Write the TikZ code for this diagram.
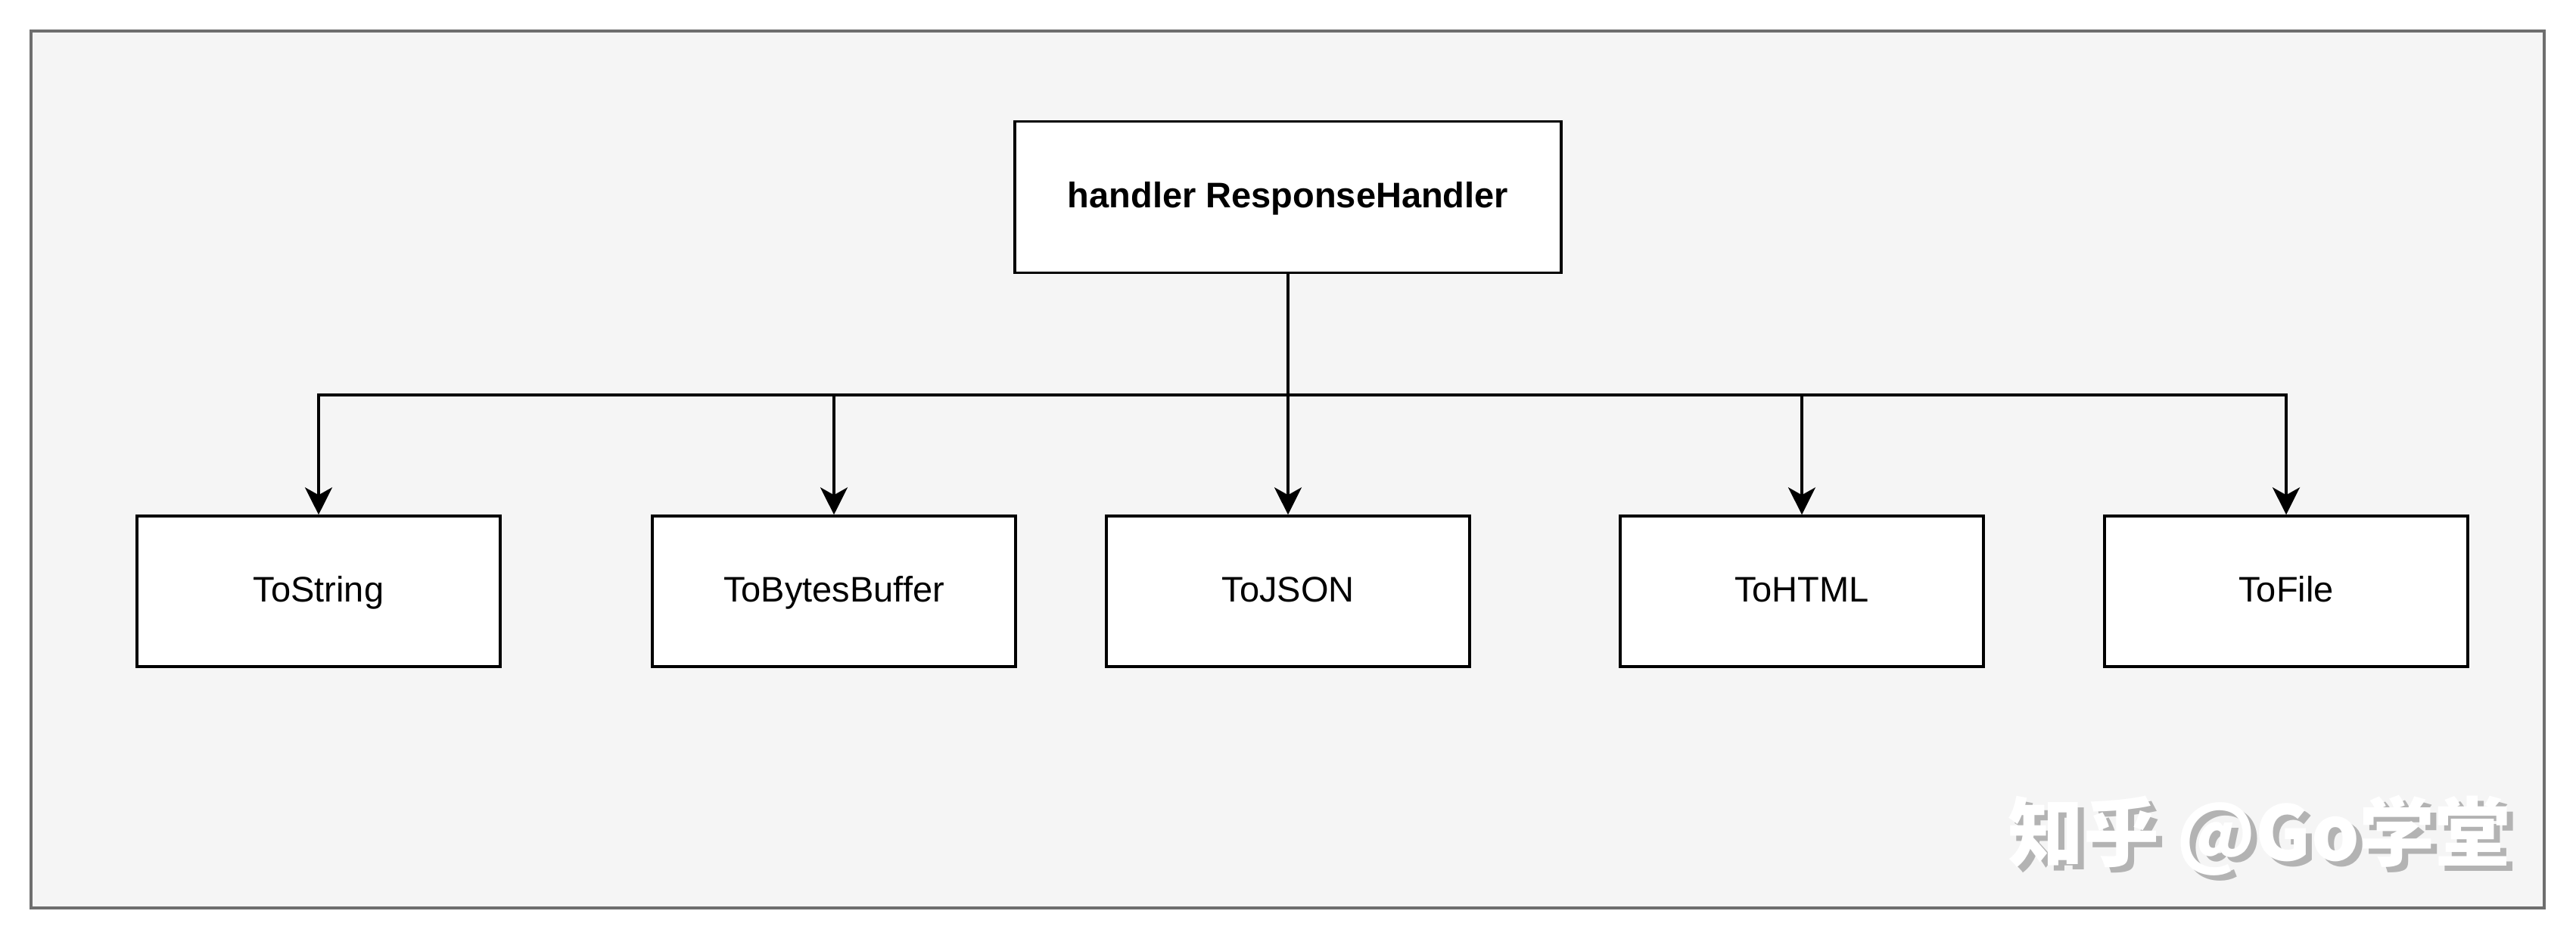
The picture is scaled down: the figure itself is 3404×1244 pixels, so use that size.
\documentclass[tikz,border=0pt]{standalone}
\usepackage{fontspec}
\setmainfont{Liberation Sans}
\newfontfamily\cjk{Noto Sans CJK SC}
\usetikzlibrary{arrows.meta}
\definecolor{framefill}{HTML}{F5F5F5}
\definecolor{framedraw}{HTML}{6E6E6E}
\definecolor{shadowgray}{HTML}{B3B3B3}
\begin{document}
\begin{tikzpicture}[x=0.25pt,y=-0.25pt,
  box/.style={draw=black, fill=white, line width=0.9pt, rectangle, inner sep=0pt,
    minimum width=120pt, minimum height=49.75pt, text height=0.72em, text depth=0pt,
    font=\fontsize{11.75}{14}\selectfont},
  topbox/.style={box, minimum width=180.5pt, minimum height=50pt, font=\fontsize{11.75}{14}\selectfont\bfseries},
  conn/.style={line width=0.9pt, draw=black},
  arr/.style={conn, -{Stealth[length=9pt,width=9pt,inset=2.5pt]}},
  wm/.style={font=\fontsize{25}{30}\selectfont\cjk\bfseries, inner sep=0pt, anchor=west}
]
\useasboundingbox (0,0) rectangle (3404,1244);
\fill[white] (0,0) rectangle (3404,1244);
\draw[fill=framefill, draw=framedraw, line width=1pt] (41,41) rectangle (3362,1200);

\node[topbox] (top) at (1702,260.5) {handler ResponseHandler};
\node[box] (c1) at (421,781.5) {ToString};
\node[box] (c2) at (1102,781.5) {ToBytesBuffer};
\node[box] (c3) at (1702,781.5) {ToJSON};
\node[box] (c4) at (2381,781.5) {ToHTML};
\node[box] (c5) at (3021,781.5) {ToFile};

\coordinate (bus) at (1702,522);
\draw[conn] (top.south) -- (bus);
\draw[arr] (bus) -| (c1.north);
\draw[arr] (bus) -| (c2.north);
\draw[arr] (bus) -- (c3.north);
\draw[arr] (bus) -| (c4.north);
\draw[arr] (bus) -| (c5.north);

\node[wm, text=shadowgray] (wms) at (2661,1111) {知乎 @Go学堂};
\node[wm, text=white] (wmt) at (2653,1104) {知乎 @Go学堂};
\end{tikzpicture}
\end{document}
